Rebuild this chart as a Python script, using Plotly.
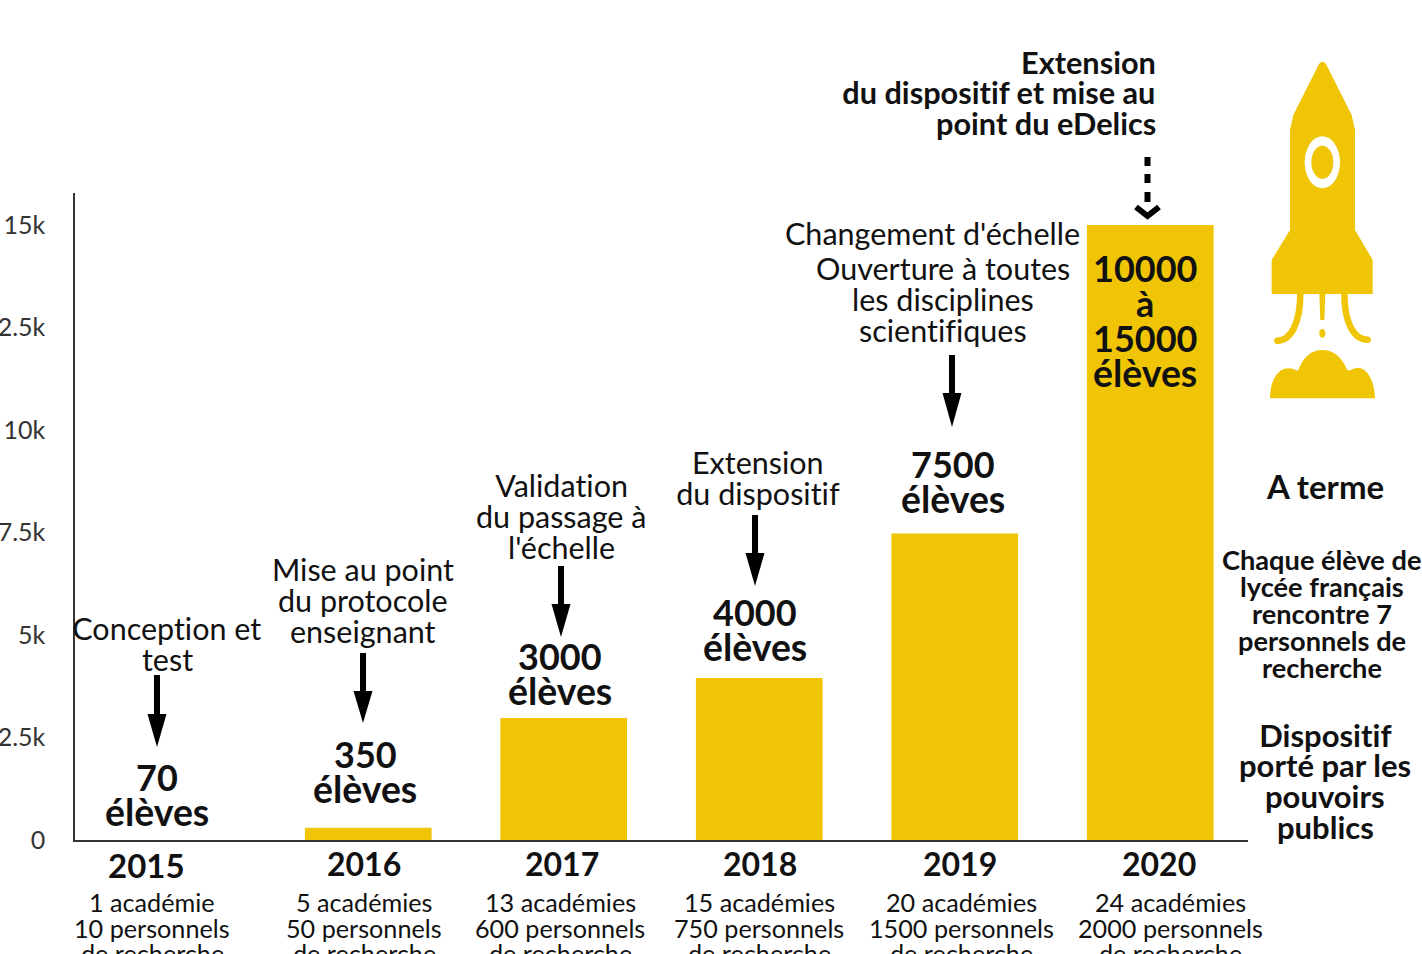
import plotly.graph_objects as go

W, H = 1422, 954
L, R, T, B = 75, 1248, 193, 840
YELLOW = "#F0C505"
INK = "#111111"
GREY = "#333333"

years = [2015, 2016, 2017, 2018, 2019, 2020]
bar_values = [None, 300, 2975, 3950, 7475, 15000]
y_ticks = [0, 2500, 5000, 7500, 10000, 12500, 15000]
y_labels = ["0", "2.5k", "5k", "7.5k", "10k", "12.5k", "15k"]

year_positions = [146, 364, 562, 759.5, 960, 1159]
year_heights = [865, 863.5, 863.5, 863.5, 863.5, 863.5]
year_sizes = [33, 32, 32, 32, 32, 32]
captions = [
    ["1 académie", "10 personnels", "de recherche"],
    ["5 académies", "50 personnels", "de recherche"],
    ["13 académies", "600 personnels", "de recherche"],
    ["15 académies", "750 personnels", "de recherche"],
    ["20 académies", "1500 personnels", "de recherche"],
    ["24 académies", "2000 personnels", "de recherche"],
]
caption_x = [152, 364, 560, 759, 961, 1170]

steps = [
    (167, 627.5, ["Conception et", "test"]),
    (363, 568.5, ["Mise au point", "du protocole", "enseignant"]),
    (561, 484.5, ["Validation", "du passage à", "l'échelle"]),
    (758, 461.5, ["Extension", "du dispositif"]),
]
step_2019 = [
    (932, 232.5, "Changement d'échelle"),
    (943, 267.5, "Ouverture à toutes"),
    (943, 298.5, "les disciplines"),
    (943, 329.5, "scientifiques"),
]
counts = [
    (157, 776.5, ["70", "élèves"]),
    (365, 753.5, ["350", "élèves"]),
    (560, 655.5, ["3000", "élèves"]),
    (755, 611.5, ["4000", "élèves"]),
    (953, 463.5, ["7500", "élèves"]),
    (1145, 267.5, ["10000", "à", "15000", "élèves"]),
]
headline = ["Extension", "du dispositif et mise au", "point du eDelics"]
a_terme = "A terme"
goal = ["Chaque élève de", "lycée français", "rencontre 7", "personnels de", "recherche"]
porte = ["Dispositif", "porté par les", "pouvoirs", "publics"]

# (x, shaft top, head start, tip)
arrows = [
    (157, 675, 714, 747),
    (363, 653, 691, 723),
    (561, 566, 604, 637),
    (755, 515, 553, 586),
    (952, 355, 393, 427),
]


def px(x):
    return (x - L) / (R - L)


def py(y):
    return (B - y) / (B - T)


def to_path(cmds):
    out = []
    for c in cmds:
        if isinstance(c, str):
            out.append(c)
        else:
            out.append(f"{px(c[0]):.5f},{py(c[1]):.5f}")
    return " ".join(out)


def rk(x, y):
    """rocket sketch coordinates (3x crop at 1220,40) to page pixels"""
    return (1220 + x / 3, 40 + y / 3)


shapes = []


def add_path(cmds, fill=None, line=None, width=0):
    shapes.append(dict(type="path", xref="paper", yref="paper", layer="above",
                       path=to_path(cmds),
                       fillcolor=fill if fill else "rgba(0,0,0,0)",
                       line=dict(color=line if line else "rgba(0,0,0,0)", width=width)))


def add_ellipse(cx, cy, rx, ry, fill):
    shapes.append(dict(type="circle", xref="paper", yref="paper", layer="above",
                       x0=px(cx - rx), x1=px(cx + rx), y0=py(cy + ry), y1=py(cy - ry),
                       fillcolor=fill, line=dict(width=0)))


for x, top, start, tip in arrows:
    add_path(["M", (x - 3, top), "L", (x + 3, top), "L", (x + 3, start), "L", (x + 9.5, start),
              "L", (x, tip), "L", (x - 9.5, start), "L", (x - 3, start), "Z"], fill="#000000")

# dashed arrow of 2020
for y0, y1 in [(157, 166), (174, 183), (192, 202)]:
    add_path(["M", (1147.5, y0), "L", (1147.5, y1)], line="#000000", width=6)
add_path(["M", (1136, 207), "L", (1147.5, 216), "L", (1159, 207)], line="#000000", width=6)

# rocket
add_path(["M", rk(297, 72), "L", rk(220, 225), "L", rk(210, 270), "L", rk(210, 570), "L", rk(155, 660),
          "L", rk(155, 762), "L", rk(458, 762), "L", rk(458, 660), "L", rk(405, 570), "L", rk(405, 270),
          "L", rk(395, 225), "L", rk(318, 72), "Q", rk(307, 58), rk(297, 72), "Z"], fill=YELLOW)
wx, wy = rk(307, 367)
add_ellipse(wx, wy, 53 / 3, 78 / 3, "#FFFFFF")
add_ellipse(wx, wy, 33 / 3, 50 / 3, YELLOW)
add_path(["M", rk(298, 760), "L", rk(316, 760), "L", rk(313, 840), "L", rk(301, 840), "Z"], fill=YELLOW)
dx, dy = rk(307, 880)
add_ellipse(dx, dy, 3, 4.3, YELLOW)
add_path(["M", rk(241, 760), "C", rk(241, 850), rk(212, 902), rk(172, 902)], line=YELLOW, width=6.5)
add_path(["M", rk(373, 760), "C", rk(373, 850), rk(402, 899), rk(443, 899)], line=YELLOW, width=6.5)
for cap in (rk(172, 902), rk(443, 899)):
    add_ellipse(cap[0], cap[1], 3.25, 3.25, YELLOW)
add_path(["M", rk(150, 1075), "C", rk(150, 1020), rk(175, 985), rk(205, 985),
          "C", rk(220, 985), rk(230, 995), rk(235, 990),
          "C", rk(250, 950), rk(275, 930), rk(307, 930),
          "C", rk(340, 930), rk(365, 950), rk(382, 990),
          "C", rk(390, 995), rk(400, 983), rk(415, 983),
          "C", rk(445, 985), rk(465, 1030), rk(465, 1075), "Z"], fill=YELLOW)

annotations = []


def text(x, y, s, size, bold=False, color=INK, anchor="center"):
    annotations.append(dict(xref="paper", yref="paper", x=px(x), y=py(y), text=s, showarrow=False,
                            xanchor=anchor, yanchor="middle",
                            font=dict(family="Lato", size=size, color=color,
                                      weight=700 if bold else 400)))


def block(x, y, lines, step, size, bold=False, anchor="center"):
    for i, s in enumerate(lines):
        text(x, y + i * step, s, size, bold, anchor=anchor)


for x, y, size, s in zip(year_positions, year_heights, year_sizes, years):
    text(x, y, str(s), size, True)
for x, lines in zip(caption_x, captions):
    block(x, 902, lines, 25.5, 25.2)
for x, y, lines in steps:
    block(x, y, lines, 31, 30.5)
for x, y, s in step_2019:
    text(x, y, s, 30.5)
for x, y, lines in counts:
    for i, s in enumerate(lines):
        text(x, y + i * 35, s, 37.4 if s == "élèves" else 36, True)
block(1157.5, 62.5, headline, 30.5, 30.7, True, anchor="right")
text(1324.5, 486, a_terme, 33, True)
block(1322, 559, goal, 27, 27.2, True)
block(1325, 734.5, porte, 30.7, 31, True)

fig = go.Figure(go.Bar(x=years, y=bar_values, width=0.648, marker=dict(color=YELLOW, line=dict(width=0)),
                       hoverinfo="skip"))
fig.update_layout(
    width=W, height=H, autosize=False,
    margin=dict(l=L, r=W - R, t=T, b=H - B, pad=0, autoexpand=False),
    paper_bgcolor="white", plot_bgcolor="white", showlegend=False,
    shapes=shapes, annotations=annotations,
    xaxis=dict(range=[2014.5, 2020.5], showgrid=False, zeroline=False, showticklabels=False, ticks="",
               showline=True, linecolor="#333333", linewidth=2, automargin=False),
    yaxis=dict(range=[0, (B - T) / 41.0 * 1000], showgrid=False, zeroline=False,
               tickvals=y_ticks, ticktext=y_labels, ticks="", ticklabelstandoff=23, automargin=False,
               tickfont=dict(family="Lato", size=25, color=GREY),
               showline=True, linecolor="#333333", linewidth=1.5),
)
page_css = ("document.body.style.margin='0';"
            "var s=document.createElement('style');"
            "s.textContent='svg text{font-variant-ligatures:none !important;}';"
            "document.head.appendChild(s);")
fig.write_html("out.html", post_script=page_css, config=dict(displayModeBar=False))
